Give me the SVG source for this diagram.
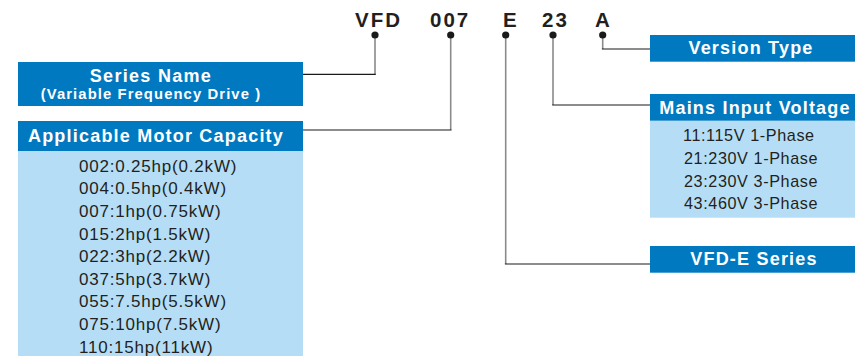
<svg xmlns="http://www.w3.org/2000/svg" width="863" height="356" viewBox="0 0 863 356">
<style>
.hdr{fill:#0079C1}
.body{fill:#B5DEF6}
.ht{font-family:"Liberation Sans",Arial,sans-serif;font-weight:bold;fill:#fff;text-anchor:middle}
.code{font-family:"Liberation Sans",Arial,sans-serif;font-weight:bold;font-size:20.5px;fill:#231f20;letter-spacing:2px}
.it{font-family:"Liberation Sans",Arial,sans-serif;font-size:17px;fill:#231f20;letter-spacing:0.8px}
.it2{font-family:"Liberation Sans",Arial,sans-serif;font-size:16.2px;fill:#231f20;letter-spacing:0.6px}
.v{stroke:#8a8a8a;stroke-width:1.6;fill:none}
.h{stroke:#1a1a1a;stroke-width:1.2;fill:none}
.dot{fill:#1a1a1a}
</style>
<rect width="863" height="356" fill="#fff"/>
<g id="code">
<text class="code" x="355" y="26.5">VFD</text>
<text class="code" x="430" y="26.5">007</text>
<text class="code" x="503" y="26.5">E</text>
<text class="code" x="542" y="26.5">23</text>
<text class="code" x="595" y="26.5">A</text>
</g>
<g id="connectors">
<path class="v" d="M375 35V74.3"/><path class="h" d="M375.8 74.3H303"/>
<path class="v" d="M450.7 35V130"/><path class="h" d="M451.5 130H303"/>
<path class="v" d="M505.7 35V264"/><path class="h" d="M504.9 264H650"/>
<path class="v" d="M553 35V105"/><path class="h" d="M552.2 105H650"/>
<path class="v" d="M602.7 35V49"/><path class="h" d="M601.9 49H650"/>
<circle class="dot" cx="375" cy="35" r="3.6"/>
<circle class="dot" cx="450.7" cy="35" r="3.6"/>
<circle class="dot" cx="505.7" cy="35" r="3.6"/>
<circle class="dot" cx="553" cy="35" r="3.6"/>
<circle class="dot" cx="602.7" cy="35" r="3.6"/>
</g>
<g id="series-name">
<rect class="hdr" x="18" y="62" width="285" height="44"/>
<text class="ht" x="151" y="82" font-size="18" letter-spacing="1.3">Series Name</text>
<text class="ht" x="151" y="99" font-size="14.8" letter-spacing="1.1">(Variable Frequency Drive )</text>
</g>
<g id="motor-capacity">
<rect class="body" x="18" y="151" width="285" height="205"/>
<rect class="hdr" x="18" y="121" width="285" height="30"/>
<text class="ht" x="156" y="142" font-size="18" letter-spacing="1.2">Applicable Motor Capacity</text>
<text class="it" x="79" y="171.7">002:0.25hp(0.2kW)</text>
<text class="it" x="79" y="194.3">004:0.5hp(0.4kW)</text>
<text class="it" x="79" y="217">007:1hp(0.75kW)</text>
<text class="it" x="79" y="239.6">015:2hp(1.5kW)</text>
<text class="it" x="79" y="262.2">022:3hp(2.2kW)</text>
<text class="it" x="79" y="284.8">037:5hp(3.7kW)</text>
<text class="it" x="79" y="307.4">055:7.5hp(5.5kW)</text>
<text class="it" x="79" y="330">075:10hp(7.5kW)</text>
<text class="it" x="79" y="352.6">110:15hp(11kW)</text>
</g>
<g id="version-type">
<rect class="hdr" x="650" y="35" width="205" height="26.7"/>
<text class="ht" x="751" y="54.3" font-size="18" letter-spacing="1.2">Version Type</text>
</g>
<g id="mains-voltage">
<rect class="body" x="650" y="120.7" width="205" height="97"/>
<rect class="hdr" x="650" y="94" width="205" height="26.7"/>
<text class="ht" x="755" y="114" font-size="18" letter-spacing="1.2">Mains Input Voltage</text>
<text class="it2" x="683" y="141">11:115V 1-Phase</text>
<text class="it2" x="684" y="164">21:230V 1-Phase</text>
<text class="it2" x="684" y="186.7">23:230V 3-Phase</text>
<text class="it2" x="684" y="209">43:460V 3-Phase</text>
</g>
<g id="vfd-e-series">
<rect class="hdr" x="650" y="246" width="205" height="26.7"/>
<text class="ht" x="754" y="265" font-size="18" letter-spacing="1.2">VFD-E Series</text>
</g>
</svg>
